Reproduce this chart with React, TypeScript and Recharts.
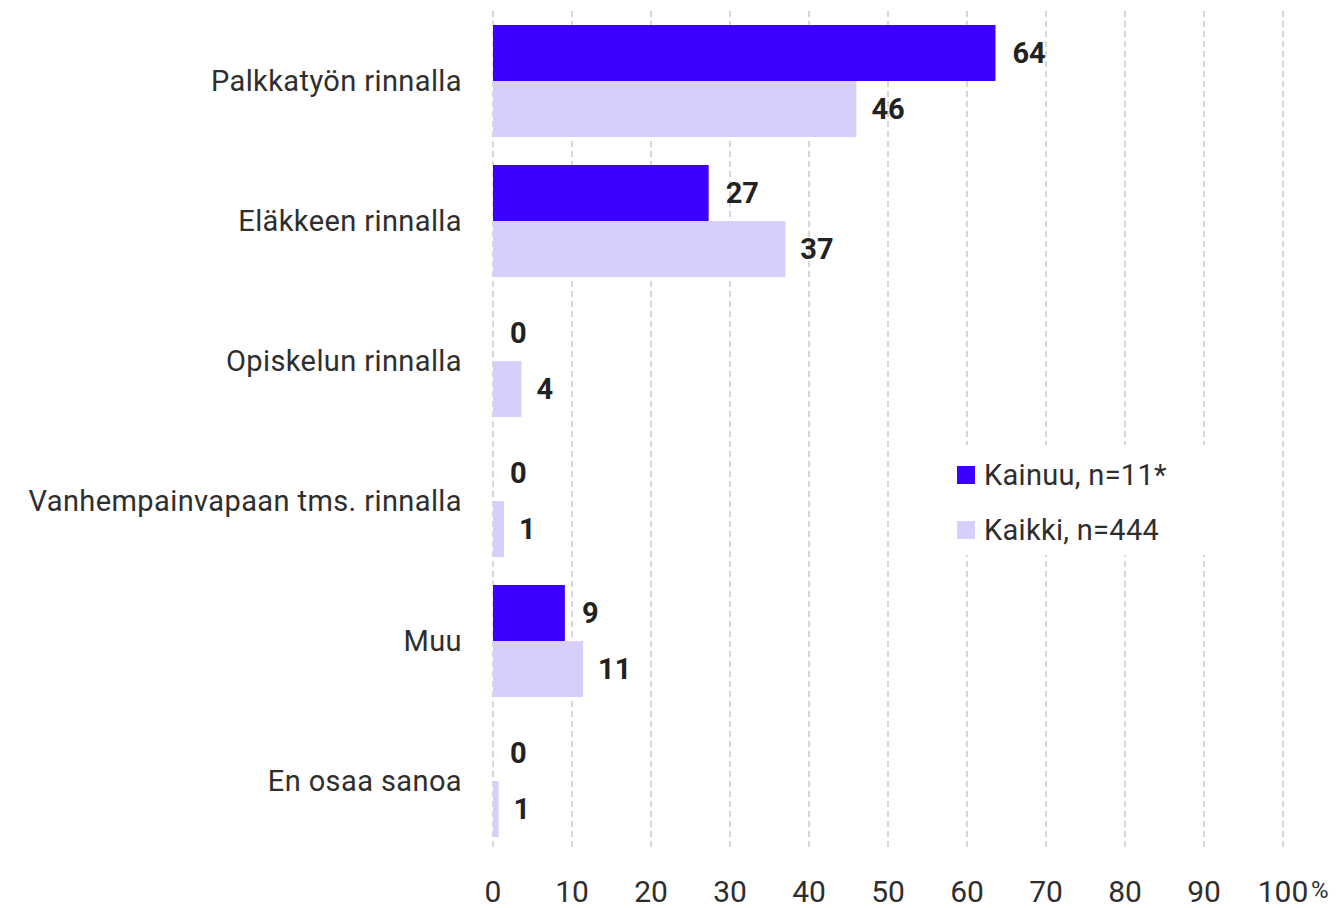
import { BarChart, Bar, XAxis, YAxis, CartesianGrid, Legend, LabelList } from 'recharts';

const categories = [
  'Palkkatyön rinnalla',
  'Eläkkeen rinnalla',
  'Opiskelun rinnalla',
  'Vanhempainvapaan tms. rinnalla',
  'Muu',
  'En osaa sanoa',
];
const kainuu = [63.6, 27.3, 0, 0, 9.1, 0];
const kaikki = [46.0, 37.0, 3.6, 1.4, 11.4, 0.7];
const xTicks = [0, 10, 20, 30, 40, 50, 60, 70, 80, 90, 100];

const KAINUU_COLOR = '#3c00ff';
const KAIKKI_COLOR = '#d8cefc';
const TEXT = '#2e2e2e';
const FONT = 'Roboto, "Noto Sans", sans-serif';

const data = categories.map((name, i) => ({ name, kainuu: kainuu[i], kaikki: kaikki[i] }));

function XTick({ x, y, payload }: any) {
  return (
    <g>
      <text x={x} y={y + 51} textAnchor="middle" fontSize={30} fill={TEXT} fontFamily={FONT}>
        {payload.value}
      </text>
      {payload.value === 100 && (
        <text x={x + 28} y={y + 47} textAnchor="start" fontSize={24} fill={TEXT} fontFamily={FONT}>
          %
        </text>
      )}
    </g>
  );
}

function LegendBox() {
  const items = [
    { label: 'Kainuu, n=11*', color: KAINUU_COLOR },
    { label: 'Kaikki, n=444', color: KAIKKI_COLOR },
  ];
  return (
    <div style={{ background: '#fff', width: 275, height: 110, position: 'relative' }}>
      {items.map((it, i) => (
        <div
          key={it.label}
          style={{
            position: 'absolute',
            left: 17,
            top: 14 + i * 55,
            display: 'flex',
            alignItems: 'center',
            gap: 9,
            fontFamily: FONT,
            fontSize: 29,
            letterSpacing: 0.3,
            color: TEXT,
            lineHeight: '32px',
          }}
        >
          <span style={{ width: 18, height: 18, background: it.color, display: 'inline-block' }} />
          <span>{it.label}</span>
        </div>
      ))}
    </div>
  );
}

const roundLabel = (v: any) => String(Math.round(Number(v)));

// zero bars still need their "0" label, so give them a hair-thin invisible size
const zeroMin = (v: any) => (Number(v) === 0 ? 0.01 : 0);

const labelStyle = { fontSize: 29, fontWeight: 700, fill: '#222', fontFamily: FONT };

export default function App() {
  return (
    <div style={{ position: 'absolute', left: 0, top: 0, background: '#fff' }}>
      <BarChart
        width={1338}
        height={908}
        data={data}
        layout="vertical"
        margin={{ top: 11, right: 55, bottom: 0, left: 0 }}
        barCategoryGap="10%"
        barGap={0}
      >
        <CartesianGrid horizontal={false} stroke="#b0b0b0" strokeDasharray="6 4" />
        <XAxis
          type="number"
          domain={[0, 100]}
          ticks={xTicks}
          axisLine={false}
          tickLine={false}
          tickSize={0}
          tickMargin={0}
          height={57}
          tick={<XTick />}
          interval={0}
        />
        <YAxis
          type="category"
          dataKey="name"
          width={493}
          axisLine={false}
          tickLine={false}
          tickSize={0}
          tickMargin={31}
          tick={{ fontSize: 29, fill: TEXT, fontFamily: FONT, letterSpacing: 0.4 }}
          interval={0}
        />
        <Legend
          layout="vertical"
          align="center"
          verticalAlign="middle"
          content={<LegendBox />}
          wrapperStyle={{ left: 940, top: 445, width: 275, height: 110 }}
        />
        <Bar
          dataKey="kainuu"
          name="Kainuu, n=11*"
          fill={KAINUU_COLOR}
          barSize={56}
          minPointSize={zeroMin}
          isAnimationActive={false}
        >
          <LabelList dataKey="kainuu" position="right" offset={17} formatter={roundLabel} style={labelStyle} />
        </Bar>
        <Bar dataKey="kaikki" name="Kaikki, n=444" fill={KAIKKI_COLOR} barSize={56} isAnimationActive={false}>
          <LabelList dataKey="kaikki" position="right" offset={15} formatter={roundLabel} style={labelStyle} />
        </Bar>
      </BarChart>
    </div>
  );
}
